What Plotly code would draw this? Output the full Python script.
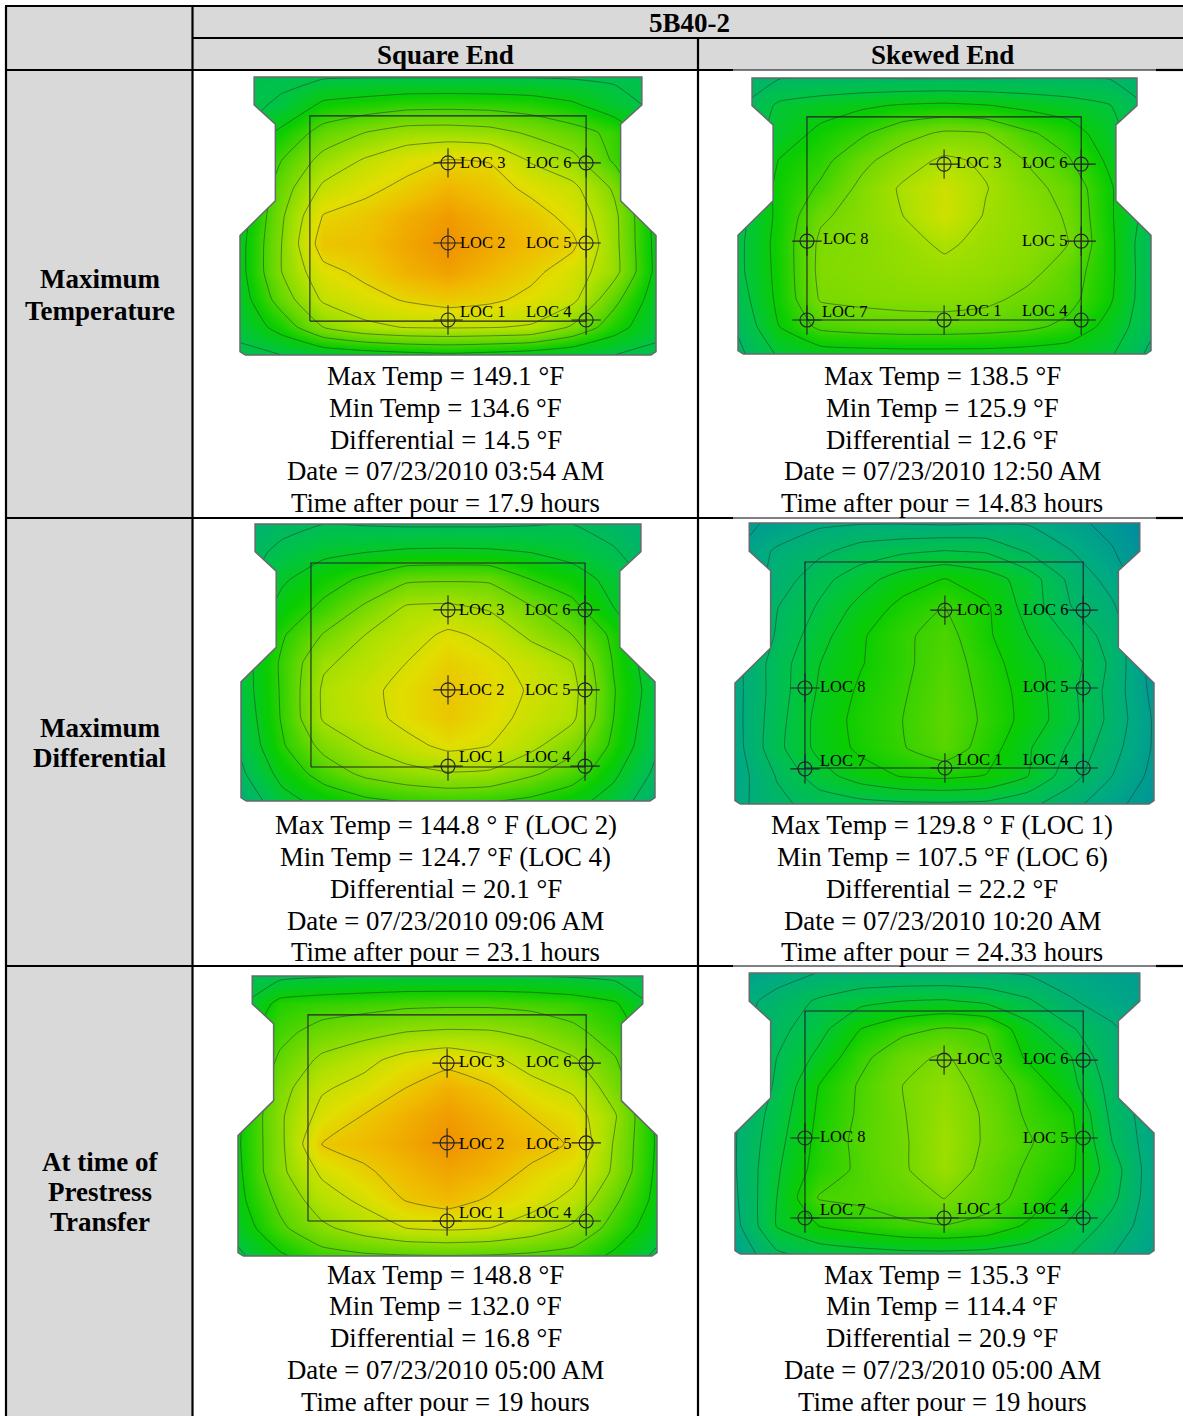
import plotly.graph_objects as go

W, H = 1183, 1416
FONT = "Liberation Serif"

U_GRID = [0.0, 0.1, 0.2, 0.3, 0.4, 0.5, 0.6, 0.7, 0.8, 0.9, 1.0]
V_GRID = [1.0, 0.9, 0.8, 0.7, 0.6, 0.5, 0.4, 0.3, 0.2, 0.1, 0.0]

# Temperatures (deg F), rows top to bottom
T_SQUARE_MAX = [
    [134.6, 134.7, 134.8, 134.9, 134.9, 134.9, 134.9, 134.9, 134.8, 134.7, 134.6],
    [134.6, 135.2, 137.5, 138.0, 138.5, 138.6, 138.5, 138.2, 137.4, 135.8, 134.6],
    [135.0, 137.6, 140.0, 141.3, 142.2, 142.3, 142.0, 141.0, 140.0, 138.7, 135.5],
    [136.0, 139.2, 142.0, 143.6, 144.8, 145.6, 145.4, 143.2, 141.9, 138.9, 136.0],
    [136.0, 140.3, 143.8, 145.0, 146.0, 147.3, 146.4, 145.0, 143.9, 141.0, 136.0],
    [136.0, 141.0, 145.6, 146.3, 147.6, 148.6, 147.5, 146.4, 144.8, 141.8, 136.4],
    [136.4, 141.3, 146.5, 146.8, 148.0, 149.1, 148.0, 147.0, 145.9, 141.9, 136.5],
    [136.4, 141.3, 144.9, 146.0, 147.5, 148.3, 147.2, 146.0, 144.5, 142.0, 136.6],
    [136.0, 140.2, 143.7, 144.8, 145.7, 146.3, 145.9, 145.0, 143.9, 139.8, 136.0],
    [135.5, 137.9, 141.3, 142.9, 143.5, 143.6, 143.5, 143.2, 141.0, 138.0, 135.5],
    [134.6, 135.0, 135.5, 136.0, 136.4, 136.7, 136.4, 136.0, 135.5, 135.0, 134.6],
]
T_SKEWED_MAX = [
    [125.9, 126.4, 126.5, 126.5, 126.4, 126.4, 126.4, 126.5, 126.5, 126.4, 125.9],
    [126.2, 128.9, 129.6, 130.2, 130.7, 130.9, 130.6, 130.0, 129.4, 128.6, 126.2],
    [127.0, 129.3, 131.0, 132.2, 133.8, 134.8, 134.5, 132.8, 131.6, 129.2, 127.0],
    [127.5, 130.6, 131.9, 134.0, 135.6, 136.9, 136.2, 134.4, 132.7, 130.1, 127.5],
    [128.0, 131.0, 132.8, 135.0, 136.8, 138.3, 136.6, 135.1, 133.9, 130.8, 127.5],
    [127.8, 131.0, 134.2, 135.3, 136.5, 138.5, 136.3, 135.5, 134.3, 130.8, 127.5],
    [128.0, 131.2, 134.9, 135.2, 135.9, 136.8, 136.0, 135.4, 134.5, 131.0, 126.9],
    [128.0, 131.1, 135.0, 135.3, 135.7, 136.0, 135.7, 135.1, 133.6, 131.0, 127.0],
    [127.5, 131.0, 134.7, 135.0, 135.2, 135.3, 135.0, 134.0, 133.2, 130.8, 127.0],
    [126.8, 130.5, 133.0, 133.4, 133.6, 133.6, 133.4, 133.0, 132.0, 129.8, 127.0],
    [126.0, 128.8, 129.5, 129.7, 129.8, 129.8, 129.8, 129.6, 129.4, 128.8, 126.0],
]
T_SQUARE_DIFF = [
    [124.7, 126.0, 127.0, 126.8, 126.6, 126.6, 126.6, 126.8, 127.0, 125.8, 124.7],
    [125.5, 127.8, 129.3, 129.9, 130.4, 130.5, 130.4, 129.9, 128.9, 127.3, 125.0],
    [126.0, 129.6, 131.8, 133.5, 135.5, 135.7, 135.6, 133.0, 131.5, 129.0, 126.0],
    [127.0, 131.0, 133.6, 136.4, 139.3, 139.5, 138.6, 136.2, 133.8, 130.0, 126.5],
    [128.0, 132.7, 136.2, 139.0, 140.6, 142.6, 141.3, 138.4, 136.0, 132.4, 127.5],
    [128.5, 133.5, 138.6, 140.0, 142.0, 144.0, 142.8, 141.0, 139.0, 132.8, 128.0],
    [128.5, 133.4, 139.5, 141.2, 143.0, 144.8, 143.4, 141.7, 140.0, 133.2, 128.5],
    [128.0, 133.3, 139.4, 140.8, 143.0, 144.6, 143.0, 141.2, 139.6, 133.0, 128.0],
    [127.5, 132.7, 136.9, 139.2, 141.0, 142.8, 142.0, 139.8, 136.9, 132.4, 127.5],
    [126.5, 131.0, 134.3, 136.7, 138.0, 138.8, 138.6, 136.5, 134.5, 130.6, 126.5],
    [124.7, 129.0, 131.0, 132.4, 133.2, 133.6, 133.2, 132.4, 131.0, 128.8, 124.9],
]
T_SKEWED_DIFF = [
    [111.0, 111.5, 113.5, 113.8, 113.8, 113.6, 113.8, 113.8, 112.0, 110.5, 107.5],
    [111.0, 114.5, 116.0, 118.0, 118.9, 119.5, 119.1, 116.4, 114.1, 111.5, 108.5],
    [111.5, 115.0, 118.5, 120.9, 123.5, 124.9, 123.4, 120.9, 116.0, 113.0, 108.7],
    [112.2, 116.6, 119.7, 123.0, 125.6, 127.6, 125.2, 121.0, 116.8, 114.4, 110.0],
    [112.5, 117.0, 121.0, 124.4, 127.0, 128.6, 125.3, 122.1, 119.0, 115.3, 111.0],
    [113.0, 118.0, 122.0, 124.6, 126.9, 129.0, 126.2, 122.9, 120.8, 116.0, 110.0],
    [113.0, 118.0, 122.4, 125.3, 127.2, 129.4, 126.6, 123.6, 120.2, 115.6, 110.5],
    [113.0, 118.3, 123.0, 125.7, 127.5, 129.7, 126.9, 123.7, 120.4, 115.8, 111.0],
    [112.8, 118.6, 122.9, 125.4, 127.3, 129.4, 126.2, 122.4, 119.0, 115.0, 111.0],
    [112.5, 116.9, 120.9, 123.5, 125.0, 125.4, 124.7, 122.1, 117.8, 114.0, 110.5],
    [113.0, 116.0, 117.8, 118.5, 118.9, 119.0, 118.8, 117.4, 115.0, 112.0, 110.0],
]
T_SQUARE_XFER = [
    [132.0, 132.4, 132.8, 133.0, 133.0, 133.0, 133.0, 133.0, 132.8, 132.4, 132.0],
    [132.5, 136.3, 136.8, 137.1, 137.5, 137.6, 137.6, 137.3, 136.8, 135.8, 132.4],
    [134.0, 137.3, 138.9, 139.7, 140.5, 140.8, 140.7, 140.0, 138.6, 136.8, 134.0],
    [134.5, 138.4, 141.0, 142.3, 143.9, 144.7, 143.6, 142.0, 140.8, 138.2, 134.0],
    [135.0, 139.5, 142.7, 143.8, 145.5, 147.0, 145.8, 143.8, 142.6, 139.3, 134.8],
    [135.0, 140.1, 143.8, 145.6, 147.0, 148.2, 147.0, 145.5, 144.2, 140.7, 135.0],
    [135.2, 139.9, 145.6, 146.4, 147.5, 148.8, 147.6, 146.6, 145.2, 140.2, 135.2],
    [135.0, 139.9, 143.4, 145.1, 146.5, 147.6, 146.8, 145.0, 143.8, 140.0, 135.0],
    [134.8, 138.6, 141.9, 143.5, 145.6, 146.5, 145.2, 144.0, 142.3, 138.4, 134.8],
    [134.0, 137.5, 140.0, 141.6, 143.0, 143.4, 143.0, 141.8, 140.1, 137.0, 134.0],
    [132.5, 135.1, 137.0, 137.6, 137.8, 137.9, 137.8, 137.5, 137.0, 135.0, 132.5],
]
T_SKEWED_XFER = [
    [114.7, 116.0, 117.6, 117.8, 117.8, 117.8, 117.6, 117.2, 116.0, 115.0, 114.4],
    [116.0, 118.7, 120.9, 122.7, 123.5, 123.8, 122.9, 120.9, 117.8, 116.0, 114.5],
    [116.5, 119.5, 122.5, 126.5, 128.7, 129.8, 129.3, 124.6, 120.9, 118.0, 115.0],
    [117.0, 120.5, 124.2, 128.7, 131.6, 132.9, 130.2, 126.0, 123.7, 118.0, 115.0],
    [117.2, 120.9, 126.5, 129.9, 132.5, 134.2, 131.2, 128.6, 124.5, 119.3, 115.0],
    [117.2, 121.8, 127.0, 130.0, 132.3, 134.8, 132.0, 129.0, 127.0, 119.7, 115.5],
    [117.3, 122.5, 127.4, 130.4, 132.0, 135.3, 132.0, 129.8, 127.5, 120.5, 115.6],
    [117.3, 123.1, 127.8, 130.1, 132.0, 135.0, 131.3, 129.1, 127.0, 122.0, 115.6],
    [117.0, 123.5, 129.7, 130.2, 131.0, 132.6, 130.7, 128.5, 125.0, 121.3, 115.6],
    [116.5, 123.7, 126.5, 127.8, 129.0, 129.4, 128.6, 126.0, 123.0, 119.4, 115.6],
    [115.0, 120.0, 121.7, 122.3, 122.7, 122.8, 122.5, 121.8, 120.6, 117.6, 115.0],
]

COLOR_STOPS = [
    [0.00, "rgb(0,130,170)"], [0.15, "rgb(0,170,130)"], [0.30, "rgb(0,195,70)"],
    [0.42, "rgb(10,205,0)"], [0.55, "rgb(100,215,0)"], [0.70, "rgb(180,225,0)"],
    [0.80, "rgb(225,222,0)"], [0.90, "rgb(240,185,0)"], [1.00, "rgb(240,145,0)"],
]

SECTION_U = [0.012, 0.0, 0.0, 0.085, 0.085, 0.034, 0.034, 0.966, 0.966, 0.915, 0.915, 1.0, 1.0, 0.988, 0.012]
SECTION_V = [0.0, 0.012, 0.43, 0.555, 0.83, 0.9, 1.0, 1.0, 0.9, 0.83, 0.555, 0.43, 0.012, 0.0, 0.0]

PANELS = [
    dict(z=T_SQUARE_MAX, px=(240, 656, 77, 355), clim=(129.0, 149.1), lev=(135.0, 145.5, 2.1),
         box_u=(0.168, 0.832), box_v=(0.122, 0.86),
         loc_u=[0.5, 0.5, 0.5, 0.832, 0.832, 0.832], loc_v=[0.126, 0.403, 0.691, 0.126, 0.403, 0.691],
         labels=[("LOC 3", 460, 162), ("LOC 6", 526, 162), ("LOC 2", 460, 243), ("LOC 5", 526, 243), ("LOC 1", 460, 311), ("LOC 4", 526, 311)]),
    dict(z=T_SKEWED_MAX, px=(738, 1151, 78, 354), clim=(121.4, 143.9), lev=(126.5, 136.5, 2.0),
         box_u=(0.167, 0.831), box_v=(0.123, 0.859),
         loc_u=[0.499, 0.831, 0.167, 0.831, 0.167, 0.499, 0.831], loc_v=[0.688, 0.688, 0.409, 0.409, 0.123, 0.123, 0.123],
         labels=[("LOC 3", 956, 162), ("LOC 6", 1022, 162), ("LOC 8", 823, 239), ("LOC 5", 1022, 240), ("LOC 7", 822, 311), ("LOC 1", 956, 310), ("LOC 4", 1022, 310)]),
    dict(z=T_SQUARE_DIFF, px=(241, 655, 524, 801), clim=(119.4, 148.6), lev=(127.0, 142.0, 3.0),
         box_u=(0.169, 0.831), box_v=(0.123, 0.859),
         loc_u=[0.5, 0.5, 0.5, 0.831, 0.831, 0.831], loc_v=[0.126, 0.401, 0.69, 0.126, 0.401, 0.69],
         labels=[("LOC 3", 459, 609), ("LOC 6", 525, 609), ("LOC 2", 459, 689), ("LOC 5", 525, 689), ("LOC 1", 459, 756), ("LOC 4", 525, 756)]),
    dict(z=T_SKEWED_DIFF, px=(735, 1154, 523, 804), clim=(107.0, 149.0), lev=(108.6, 127.5, 2.7),
         box_u=(0.167, 0.831), box_v=(0.128, 0.861),
         loc_u=[0.501, 0.831, 0.167, 0.831, 0.167, 0.501, 0.831], loc_v=[0.69, 0.69, 0.413, 0.413, 0.125, 0.128, 0.128],
         labels=[("LOC 3", 957, 609), ("LOC 6", 1023, 609), ("LOC 8", 820, 687), ("LOC 5", 1023, 687), ("LOC 7", 820, 760), ("LOC 1", 957, 759), ("LOC 4", 1023, 759)]),
    dict(z=T_SQUARE_XFER, px=(238, 657, 976, 1256), clim=(125.8, 148.8), lev=(133.0, 145.5, 2.5),
         box_u=(0.167, 0.831), box_v=(0.125, 0.861),
         loc_u=[0.499, 0.499, 0.499, 0.831, 0.831, 0.831], loc_v=[0.125, 0.404, 0.689, 0.125, 0.404, 0.689],
         labels=[("LOC 3", 459, 1061), ("LOC 6", 526, 1061), ("LOC 2", 459, 1143), ("LOC 5", 526, 1143), ("LOC 1", 459, 1212), ("LOC 4", 526, 1212)]),
    dict(z=T_SKEWED_XFER, px=(735, 1154, 973, 1254), clim=(110.7, 148.0), lev=(114.5, 132.5, 3.0),
         box_u=(0.167, 0.831), box_v=(0.128, 0.865),
         loc_u=[0.499, 0.831, 0.167, 0.831, 0.167, 0.499, 0.831], loc_v=[0.69, 0.69, 0.413, 0.413, 0.128, 0.128, 0.128],
         labels=[("LOC 3", 957, 1058), ("LOC 6", 1023, 1058), ("LOC 8", 820, 1136), ("LOC 5", 1023, 1137), ("LOC 7", 820, 1209), ("LOC 1", 957, 1208), ("LOC 4", 1023, 1208)]),
]

COLUMN_TITLES = [("5B40-2", 689, 23), ("Square End", 445, 55), ("Skewed End", 942, 55)]
ROW_TITLES = [("Maximum", 279), ("Temperature", 311), ("Maximum", 728), ("Differential", 758),
              ("At time of", 1162), ("Prestress", 1192), ("Transfer", 1222)]
CAPTIONS = [
    (445.5, [376, 408, 440, 471, 503], ["Max Temp = 149.1 °F", "Min Temp = 134.6 °F", "Differential = 14.5 °F", "Date = 07/23/2010 03:54 AM", "Time after pour = 17.9 hours"]),
    (942.5, [376, 408, 440, 471, 503], ["Max Temp = 138.5 °F", "Min Temp = 125.9 °F", "Differential = 12.6 °F", "Date = 07/23/2010 12:50 AM", "Time after pour = 14.83 hours"]),
    (445.5, [825, 857, 889, 921, 952], ["Max Temp = 144.8 ° F (LOC 2)", "Min Temp = 124.7 °F (LOC 4)", "Differential = 20.1 °F", "Date = 07/23/2010 09:06 AM", "Time after pour = 23.1 hours"]),
    (942.5, [825, 857, 889, 921, 952], ["Max Temp = 129.8 ° F (LOC 1)", "Min Temp = 107.5 °F (LOC 6)", "Differential = 22.2 °F", "Date = 07/23/2010 10:20 AM", "Time after pour = 24.33 hours"]),
    (445.5, [1275, 1306, 1338, 1370, 1402], ["Max Temp = 148.8 °F", "Min Temp = 132.0 °F", "Differential = 16.8 °F", "Date = 07/23/2010 05:00 AM", "Time after pour = 19 hours"]),
    (942.5, [1275, 1306, 1338, 1370, 1402], ["Max Temp = 135.3 °F", "Min Temp = 114.4 °F", "Differential = 20.9 °F", "Date = 07/23/2010 05:00 AM", "Time after pour = 19 hours"]),
]

PAD = 0.02
INK = "#22222e"


def px(x):
    return x / W


def py(y):
    return 1 - y / H


fig = go.Figure()
layout = dict(width=W, height=H, margin=dict(l=0, r=0, t=0, b=0), paper_bgcolor="white",
              plot_bgcolor="rgba(0,0,0,0)", showlegend=False, autosize=False)
annotations = []


def text(s, x, y, size, bold=False, anchor="center", xshift=0):
    annotations.append(dict(text=f"<b>{s}</b>" if bold else s, x=px(x), y=py(y), xref="paper", yref="paper",
                            xanchor=anchor, yanchor="middle", showarrow=False, xshift=xshift,
                            font=dict(family=FONT, size=size, color="#000000")))


for i, p in enumerate(PANELS, start=1):
    x0, x1, y0, y1 = p["px"]
    dx, dy = (x1 - x0) * PAD, (y1 - y0) * PAD
    suffix = "" if i == 1 else str(i)
    layout[f"xaxis{suffix}"] = dict(domain=[px(x0 - dx), px(x1 + dx)], range=[-PAD, 1 + PAD], visible=False,
                                    fixedrange=True, anchor=f"y{suffix}")
    layout[f"yaxis{suffix}"] = dict(domain=[py(y1 + dy), py(y0 - dy)], range=[-PAD, 1 + PAD], visible=False,
                                    fixedrange=True, anchor=f"x{suffix}")
    ax = dict(xaxis=f"x{suffix}", yaxis=f"y{suffix}", hoverinfo="skip", showlegend=False)
    start, end, size = p["lev"]
    fig.add_trace(go.Contour(x=U_GRID, y=V_GRID[::-1], z=p["z"][::-1], colorscale=COLOR_STOPS,
                             zmin=p["clim"][0], zmax=p["clim"][1], showscale=False,
                             contours=dict(coloring="heatmap", start=start, end=end, size=size),
                             line=dict(color="rgba(35,60,45,0.62)", width=0.9, smoothing=0.4), **ax))
    lo, hi = -PAD, 1 + PAD
    mask_u = [lo, hi, hi, lo, lo] + SECTION_U + [lo]
    mask_v = [lo, lo, hi, hi, lo] + SECTION_V + [lo]
    fig.add_trace(go.Scatter(x=mask_u, y=mask_v, mode="none", fill="toself", fillcolor="white", **ax))
    fig.add_trace(go.Scatter(x=SECTION_U, y=SECTION_V, mode="lines", line=dict(color="#666a6a", width=1.5), **ax))
    bu, bv = p["box_u"], p["box_v"]
    fig.add_trace(go.Scatter(x=[bu[0], bu[1], bu[1], bu[0], bu[0]], y=[bv[0], bv[0], bv[1], bv[1], bv[0]],
                             mode="lines", line=dict(color=INK, width=1.1), **ax))
    fig.add_trace(go.Scatter(x=p["loc_u"], y=p["loc_v"], mode="markers",
                             marker=dict(symbol="circle-open", size=14, color=INK, line=dict(color=INK, width=1.1)), **ax))
    fig.add_trace(go.Scatter(x=p["loc_u"], y=p["loc_v"], mode="markers",
                             marker=dict(symbol="cross-thin-open", size=21, color=INK, line=dict(color=INK, width=1.1)), **ax))
    for s, lx, ly in p["labels"]:
        text(s, lx, ly, 16.5, anchor="left", xshift=-2)

for s, x, y in COLUMN_TITLES:
    text(s, x, y, 27, bold=True)
for s, y in ROW_TITLES:
    text(s, 99.5, y, 27, bold=True)
for x, ys, lines in CAPTIONS:
    for y, s in zip(ys, lines):
        text(s, x, y, 26.8)

shapes = [
    dict(type="rect", xref="paper", yref="paper", x0=px(6), x1=px(W), y0=py(70), y1=py(6),
         fillcolor="#d9d9d9", line_width=0, layer="below"),
    dict(type="rect", xref="paper", yref="paper", x0=px(6), x1=px(192), y0=py(H), y1=py(70),
         fillcolor="#d9d9d9", line_width=0, layer="below"),
]


def rule(x0, y0, x1, y1, width=2.2):
    shapes.append(dict(type="line", xref="paper", yref="paper", x0=px(x0), y0=py(y0), x1=px(x1), y1=py(y1),
                       line=dict(color="#000000", width=width), layer="above"))


rule(5, 6, W, 6)
rule(192, 38, W, 38)
rule(6, 70, 733, 70)
rule(1156, 70, W, 70)
rule(733, 70, 1156, 70, 1)
for y in (518, 966):
    rule(6, y, 733, y)
    rule(733, y, 1156, y, 1)
    rule(1156, y, W, y)
rule(6, 6, 6, H)
rule(192.5, 6, 192.5, H)
rule(698, 38, 698, H)

layout["annotations"] = annotations
layout["shapes"] = shapes
fig.update_layout(**layout)
fig.write_html("out.html", config={"displayModeBar": False},
               post_script="document.body.style.margin='0';document.body.style.overflow='hidden';")
